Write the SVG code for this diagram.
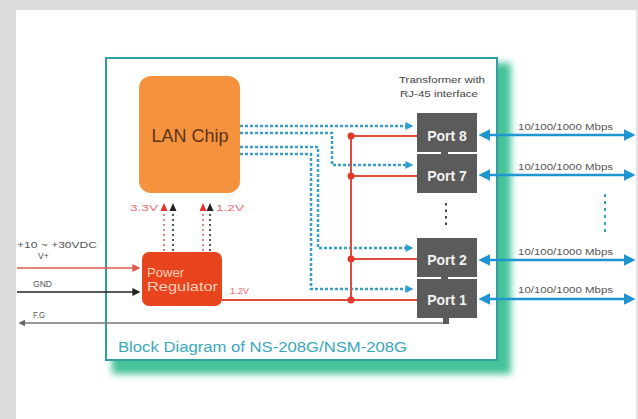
<svg xmlns="http://www.w3.org/2000/svg" width="638" height="419" viewBox="0 0 638 419">
<style>
  text { font-family: "Liberation Sans", Arial, sans-serif; }
  .lbl { font-size: 8.5px; fill: #555; }
  .port { fill: #5b5b5b; }
  .ptxt { font-size: 14px; font-weight: bold; fill: #f2f2f2; text-anchor: middle; }
  .mbps { font-size: 8.5px; fill: #555; }
  .blue { fill: none; stroke: #1f95d0; stroke-width: 2.5; }
  .dot { fill: none; stroke: #3b9ec9; stroke-width: 2.5; stroke-dasharray: 3 2; }
  .red { fill: none; stroke: #e04a3a; stroke-width: 2; }
  .volt { font-size: 9px; fill: #e87070; }
  .reg { font-size: 13px; fill: #fbd0b8; }
</style>
<defs>
  <filter id="blur" x="-10%" y="-10%" width="120%" height="120%"><feGaussianBlur stdDeviation="3.5"/></filter>
  <marker id="ab" markerUnits="userSpaceOnUse" markerWidth="12" markerHeight="12" viewBox="0 0 10 10" refX="2" refY="5" orient="auto-start-reverse">
    <path d="M0,0 L10,5 L0,10 z" fill="#1f95d0"/>
  </marker>
  <marker id="ad" markerUnits="userSpaceOnUse" markerWidth="8" markerHeight="8" viewBox="0 0 10 10" refX="2" refY="5" orient="auto">
    <path d="M0,0 L10,5 L0,10 z" fill="#2f9fd0"/>
  </marker>
  <marker id="ar" markerUnits="userSpaceOnUse" markerWidth="8" markerHeight="8" viewBox="0 0 10 10" refX="2" refY="5" orient="auto">
    <path d="M0,0 L10,5 L0,10 z" fill="#e05a4a"/>
  </marker>
  <marker id="ak" markerUnits="userSpaceOnUse" markerWidth="8" markerHeight="8" viewBox="0 0 10 10" refX="2" refY="5" orient="auto">
    <path d="M0,0 L10,5 L0,10 z" fill="#222"/>
  </marker>
  <marker id="ag" markerUnits="userSpaceOnUse" markerWidth="7" markerHeight="7" viewBox="0 0 10 10" refX="2" refY="5" orient="auto">
    <path d="M0,0 L10,5 L0,10 z" fill="#666"/>
  </marker>
</defs>

<!-- background frame -->
<rect x="0" y="0" width="638" height="419" fill="#ffffff"/>
<rect x="0" y="0" width="638" height="10" fill="#dcdcde"/>
<rect x="0" y="0" width="16" height="419" fill="#dcdcde"/>
<rect x="636" y="10" width="2" height="409" fill="#e4e4e6"/>

<!-- main box with shadow -->
<g id="board">
  <rect x="112" y="63" width="399" height="311" fill="#44c29a" filter="url(#blur)"/>
  <rect x="106" y="58" width="391" height="302" fill="#ffffff" stroke="#2f9fa0" stroke-width="2"/>
  <text x="118" y="352" font-size="14.5" fill="#3aa8b8" textLength="289" lengthAdjust="spacingAndGlyphs">Block Diagram of NS-208G/NSM-208G</text>
  <text x="399" y="83" font-size="9" fill="#444" textLength="86" lengthAdjust="spacingAndGlyphs">Transformer with</text>
  <text x="400" y="97" font-size="9" fill="#444" textLength="78" lengthAdjust="spacingAndGlyphs">RJ-45 interface</text>
</g>

<!-- connectors -->
<g id="connectors">
  <!-- dotted data lines from LAN chip -->
  <path class="dot" d="M240,126 H407" marker-end="url(#ad)"/>
  <path class="dot" d="M240,133 H332 V165 H407" marker-end="url(#ad)"/>
  <path class="dot" d="M240,147 H318 V248 H407" marker-end="url(#ad)"/>
  <path class="dot" d="M240,154 H311 V289 H407" marker-end="url(#ad)"/>

  <!-- red power bus -->
  <path class="red" d="M351,136 V300"/>
  <path class="red" d="M351,136 H417"/>
  <path class="red" d="M351,176 H417"/>
  <path class="red" d="M351,259 H417"/>
  <path class="red" d="M222,300 H417"/>
  <circle cx="351" cy="136" r="3.5" fill="#e03a2a"/>
  <circle cx="351" cy="176" r="3.5" fill="#e03a2a"/>
  <circle cx="351" cy="259" r="3.5" fill="#e03a2a"/>
  <circle cx="351" cy="300" r="3.5" fill="#e03a2a"/>

  <!-- regulator to LAN chip -->
  <g stroke-width="1.8" stroke-dasharray="2 3" fill="none">
    <path d="M164,214 V251" stroke="#d07878"/>
    <path d="M173,214 V251" stroke="#444"/>
    <path d="M203,214 V251" stroke="#d07878"/>
    <path d="M210,214 V251" stroke="#444"/>
  </g>
  <path d="M164,203 L160.5,211 L167.5,211 z" fill="#e83030"/>
  <path d="M173,203 L169.5,211 L176.5,211 z" fill="#222"/>
  <path d="M203,203 L199.5,211 L206.5,211 z" fill="#e83030"/>
  <path d="M210,203 L206.5,211 L213.5,211 z" fill="#222"/>
  <text class="volt" x="130" y="211" textLength="28" lengthAdjust="spacingAndGlyphs">3.3V</text>
  <text class="volt" x="216" y="211" textLength="28" lengthAdjust="spacingAndGlyphs">1.2V</text>
  <text class="volt" x="230" y="294" textLength="19" lengthAdjust="spacingAndGlyphs">1.2V</text>

  <!-- inputs -->
  <path d="M17,268 H134" stroke="#e05a4a" stroke-width="1.5" fill="none" marker-end="url(#ar)"/>
  <path d="M17,292 H134" stroke="#222" stroke-width="1.5" fill="none" marker-end="url(#ak)"/>
  <path d="M446,318 V323 H24" stroke="#777" stroke-width="1.5" fill="none" marker-end="url(#ag)"/>
  <text class="lbl" x="17" y="248" textLength="80" lengthAdjust="spacingAndGlyphs">+10 ~ +30VDC</text>
  <text class="lbl" x="38" y="259">V+</text>
  <text class="lbl" x="33" y="287" textLength="19" lengthAdjust="spacingAndGlyphs">GND</text>
  <text class="lbl" x="33" y="318" textLength="12" lengthAdjust="spacingAndGlyphs">F.G</text>

  <!-- ethernet links -->
  <path class="blue" d="M488,135 H626" marker-start="url(#ab)" marker-end="url(#ab)"/>
  <path class="blue" d="M488,175 H626" marker-start="url(#ab)" marker-end="url(#ab)"/>
  <path class="blue" d="M488,260 H626" marker-start="url(#ab)" marker-end="url(#ab)"/>
  <path class="blue" d="M488,299 H626" marker-start="url(#ab)" marker-end="url(#ab)"/>
  <text class="mbps" x="518" y="130" textLength="95" lengthAdjust="spacingAndGlyphs">10/100/1000 Mbps</text>
  <text class="mbps" x="518" y="170" textLength="95" lengthAdjust="spacingAndGlyphs">10/100/1000 Mbps</text>
  <text class="mbps" x="518" y="255" textLength="95" lengthAdjust="spacingAndGlyphs">10/100/1000 Mbps</text>
  <text class="mbps" x="518" y="293" textLength="95" lengthAdjust="spacingAndGlyphs">10/100/1000 Mbps</text>
  <path d="M605,194 V232" stroke="#3b9ec9" stroke-width="2" stroke-dasharray="3 4" fill="none"/>
  <path d="M446,203 V226" stroke="#444" stroke-width="2" stroke-dasharray="2.5 4" fill="none"/>
</g>

<!-- LAN chip -->
<g id="lan-chip">
  <rect x="139" y="76" width="101" height="117" rx="12" fill="#f5923e"/>
  <text x="190" y="142" font-size="18" fill="#5c3419" text-anchor="middle" textLength="77" lengthAdjust="spacingAndGlyphs">LAN Chip</text>
</g>

<!-- Power regulator -->
<g id="power-regulator">
  <rect x="142" y="252" width="80" height="54" rx="7" fill="#e8441e"/>
  <text class="reg" x="147" y="277" textLength="37" lengthAdjust="spacingAndGlyphs">Power</text>
  <text class="reg" x="147" y="291" textLength="71" lengthAdjust="spacingAndGlyphs">Regulator</text>
</g>

<!-- Ports -->
<g id="port-8">
  <rect class="port" x="417" y="113" width="60" height="39"/>
  <text class="ptxt" x="447" y="141">Port 8</text>
</g>
<g id="port-7">
  <rect class="port" x="417" y="154" width="60" height="39"/>
  <rect class="port" x="441" y="150" width="7" height="6"/>
  <text class="ptxt" x="447" y="181">Port 7</text>
</g>
<g id="port-2">
  <rect class="port" x="417" y="238" width="60" height="39"/>
  <text class="ptxt" x="447" y="265">Port 2</text>
</g>
<g id="port-1">
  <rect class="port" x="417" y="279" width="60" height="39"/>
  <rect class="port" x="441" y="275" width="7" height="6"/>
  <rect class="port" x="443" y="316" width="6" height="8"/>
  <text class="ptxt" x="447" y="305">Port 1</text>
</g>
</svg>
